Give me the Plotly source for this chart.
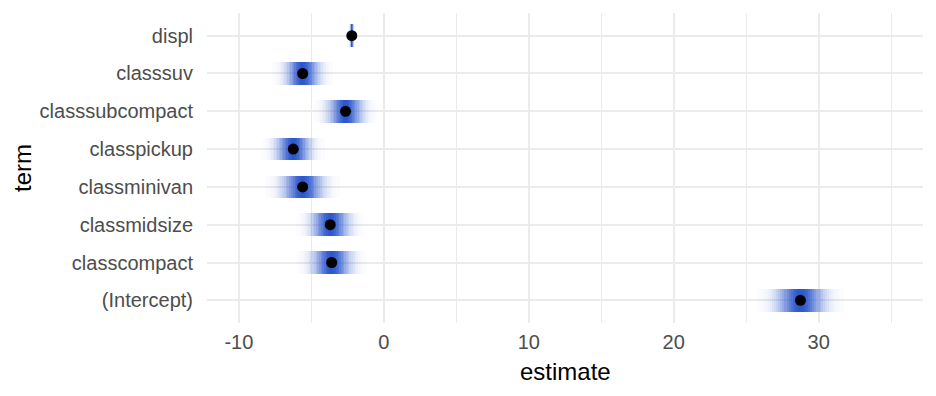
import numpy as np
import plotly.graph_objects as go

terms = ["(Intercept)", "classcompact", "classmidsize", "classminivan",
         "classpickup", "classsubcompact", "classsuv", "displ"]
estimates = [28.74, -3.6, -3.7, -5.6, -6.25, -2.64, -5.6, -2.21]
std_errors = [1.0, 0.8, 0.78, 0.85, 0.72, 0.72, 0.7, 0.07]

x_ticks = [-10, 0, 10, 20, 30]
band_rgb = (45, 88, 205)

fig = go.Figure()

n_steps = 41
for term, est, se in zip(terms, estimates, std_errors):
    edges = est + se * np.linspace(-3, 3, n_steps + 1)
    mids = (edges[:-1] + edges[1:]) / 2
    dens = np.exp(-0.5 * ((mids - est) / se) ** 2)
    colors = [f"rgba({band_rgb[0]},{band_rgb[1]},{band_rgb[2]},{a:.3f})" for a in dens]
    fig.add_trace(go.Bar(
        y=[term] * n_steps,
        x=np.diff(edges),
        base=edges[:-1],
        orientation="h",
        width=0.6,
        marker=dict(color=colors, line=dict(width=0)),
        showlegend=False,
        hoverinfo="skip",
    ))

fig.add_trace(go.Scatter(
    x=estimates, y=terms, mode="markers",
    marker=dict(color="black", size=11),
    showlegend=False,
))

fig.add_annotation(text="estimate", xref="paper", yref="paper", x=0.5, y=-0.158,
                   xanchor="center", yanchor="middle", showarrow=False,
                   font=dict(size=24, color="black"))
fig.add_annotation(text="term", xref="paper", yref="paper", x=-0.2584, y=0.5,
                   xanchor="center", yanchor="middle", showarrow=False, textangle=-90,
                   font=dict(size=24, color="black"))

fig.update_layout(
    width=928, height=388,
    margin=dict(l=199, r=13, t=5, b=73),
    plot_bgcolor="white", paper_bgcolor="white",
    barmode="overlay", bargap=0,
    font=dict(family="Liberation Sans, Arial, sans-serif"),
    xaxis=dict(
        range=[-12.2, 37.2], automargin=False,
        tickvals=x_ticks, ticktext=[str(v) for v in x_ticks],
        showgrid=True, gridcolor="#EBEBEB", gridwidth=2,
        minor=dict(dtick=5, tick0=0, showgrid=True, gridcolor="#EBEBEB", gridwidth=1),
        zeroline=False, showline=False,
        ticks="outside", ticklen=1, tickcolor="rgba(0,0,0,0)",
        tickfont=dict(size=20, color="#4D4D4D"),
    ),
    yaxis=dict(
        categoryorder="array", categoryarray=terms, automargin=False,
        range=[-0.6, 7.6],
        showgrid=True, gridcolor="#EBEBEB", gridwidth=2,
        zeroline=False, showline=False,
        ticks="outside", ticklen=9, tickcolor="rgba(0,0,0,0)",
        tickfont=dict(size=20, color="#4D4D4D"),
    ),
)

fig.write_html("out.html")
